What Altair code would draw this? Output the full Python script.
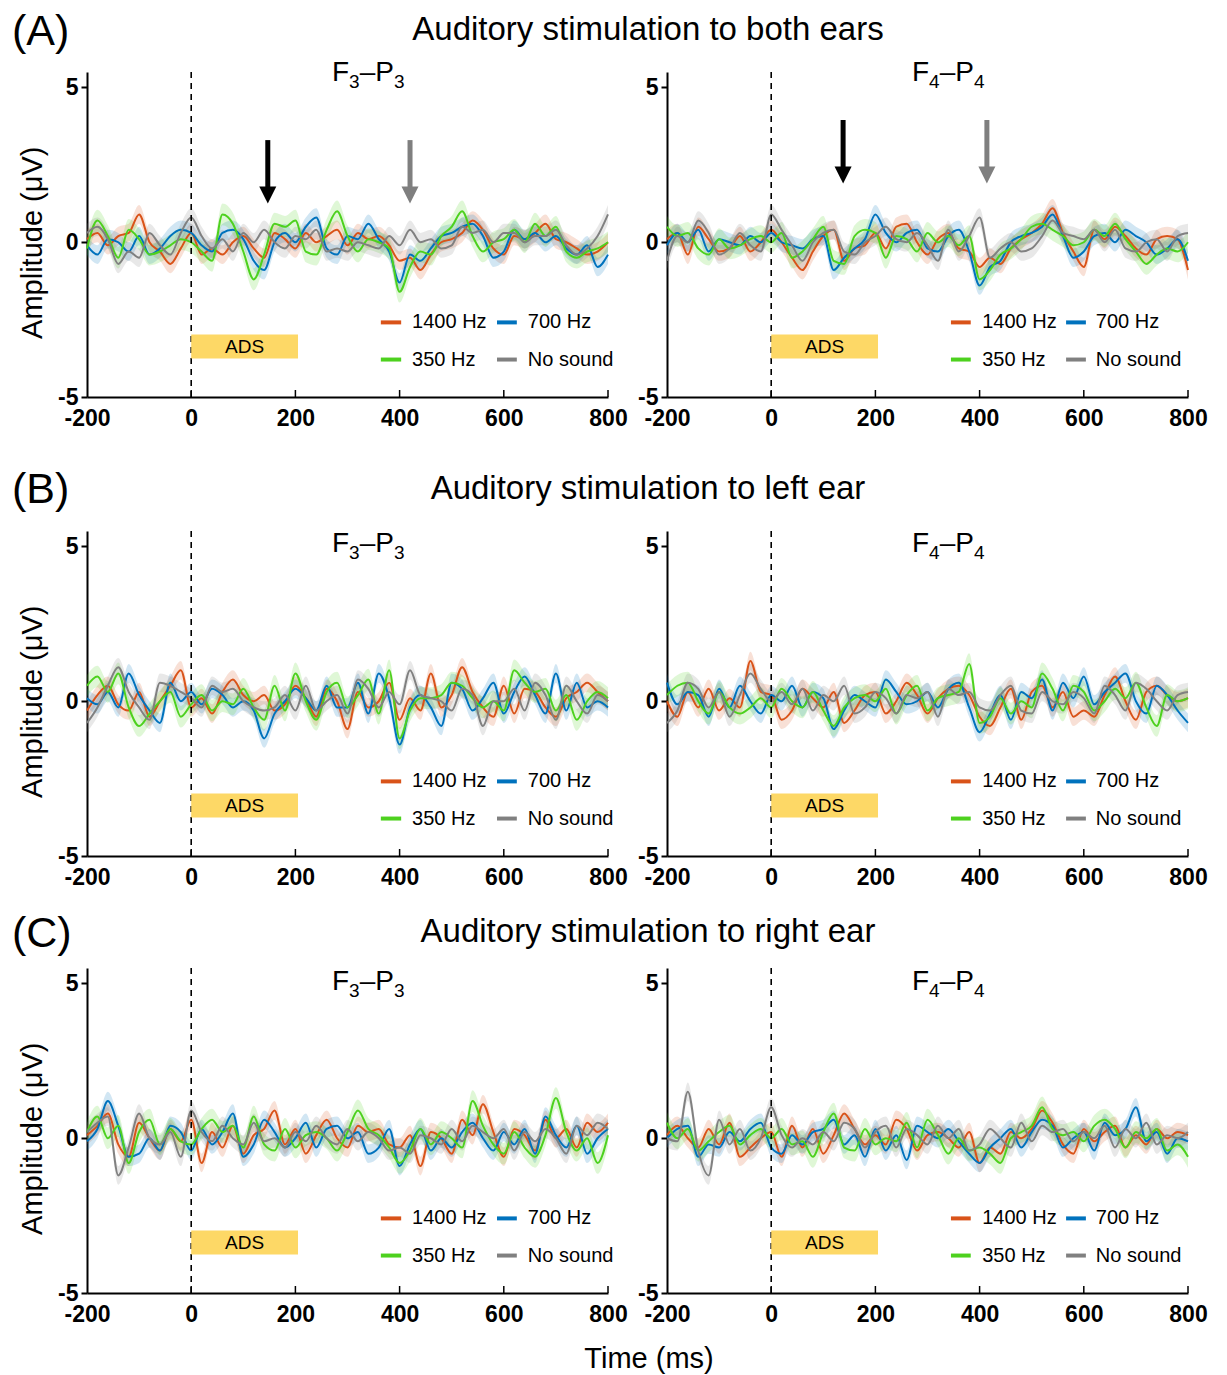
import altair as alt
import pandas as pd

# ---------------- data (20 ms steps) ----------------
TIMES = list(range(-200, 801, 20))
CONDS = ["1400 Hz", "700 Hz", "350 Hz", "No sound"]
COLORS = ["#D95319", "#0072BD", "#4DD11E", "#808080"]
SEM = [0.30, 0.30, 0.35, 0.30]

ROW_KEYS = ["A", "B", "C"]
ROW_LABELS = ["(A)", "(B)", "(C)"]
ROW_TITLES = ["Auditory stimulation to both ears",
              "Auditory stimulation to left ear",
              "Auditory stimulation to right ear"]
ELECTRODE_NUM = {"L": "3", "R": "4"}
X_TICKS = [-200, 0, 200, 400, 600, 800]
Y_TICKS = [-5, 0, 5]

# Panel A, F3-P3
A_L_1400 = [0.1, 0.3, -0.1, 0.2, 0.3, 0.9, 0.0, -0.3, -0.7, -0.2,
            0.3, -0.4, -0.2, -0.4, 0.0, 0.2, -0.2, -0.5, 0.3, 0.1,
            -0.2, 0.3, 0.0, 0.2, 0.4, -0.1, 0.3, 0.1, 0.2, -0.1,
            -0.6, -0.5, -0.9, -0.4, 0.0, 0.1, 0.3, 0.7, 0.4, -0.2,
            -0.4, 0.2, 0.1, 0.3, 0.6, 0.1, 0.0, -0.2, -0.4, -0.3, 0.0]
A_L_700 = [-0.1, -0.4, 0.1, 0.0, -0.3, 0.2, -0.4, -0.2, 0.2, 0.4,
           0.3, -0.1, -0.3, 0.3, 0.4, 0.1, -0.6, -0.9, 0.0, 0.3,
           0.0, 0.5, 0.8, -0.2, -0.4, 0.2, 0.1, 0.6, 0.1, -0.3,
           -1.3, -0.4, -0.6, -0.2, 0.2, 0.3, 0.5, 0.6, 0.2, -0.5,
           -0.3, 0.4, 0.1, 0.3, 0.0, 0.2, -0.2, -0.4, -0.1, -0.8, -0.4]
A_L_350 = [-0.2, 0.7, 0.2, -0.5, 0.4, 0.1, -0.4, -0.3, -0.1, 0.1,
           0.0, -0.3, -0.6, 0.9, 0.6, -0.3, -1.2, -0.4, 0.6, 0.5,
           0.7, -0.3, -0.4, 0.4, 1.0, 0.2, -0.3, 0.1, 0.0, -0.2,
           -1.6, -0.8, -0.3, -0.4, 0.2, 0.5, 1.0, 0.2, -0.3, 0.0,
           0.1, 0.4, 0.0, 0.6, 0.2, 0.5, -0.3, -0.5, -0.3, -0.2, 0.0]
A_L_NS = [0.3, 0.5, 0.1, -0.7, -0.3, -0.5, 0.3, -0.1, -0.4, 0.3,
          0.8, 0.2, -0.2, 0.1, -0.3, 0.3, 0.0, 0.4, 0.0, -0.2,
          0.2, 0.1, 0.4, -0.3, -0.2, -0.3, 0.0, -0.1, -0.2, 0.2,
          -0.1, 0.4, 0.0, 0.1, -0.2, -0.1, 0.5, 0.3, 0.4, 0.0,
          0.3, 0.3, 0.0, 0.2, 0.2, 0.4, -0.1, -0.4, -0.2, 0.2, 0.9]
# Panel A, F4-P4
A_R_1400 = [0.1, 0.3, -0.4, 0.5, 0.1, -0.3, -0.2, 0.2, -0.3, 0.0,
            0.4, 0.0, -0.5, -0.9, -0.3, 0.2, 0.4, -0.6, -0.2, -0.1,
            0.3, -0.2, 0.5, 0.6, 0.0, -0.4, 0.1, 0.3, -0.2, -0.3,
            -0.8, -0.5, -0.7, -0.2, 0.1, 0.3, 0.6, 1.1, 0.3, -0.3,
            -0.8, 0.4, 0.1, 0.5, 0.2, -0.2, -0.4, 0.1, 0.2, 0.1, -0.9]
A_R_700 = [-0.1, 0.3, 0.0, 0.4, -0.3, 0.1, 0.0, -0.1, 0.2, 0.0,
           0.3, 0.0, -0.1, -0.2, 0.1, 0.2, -0.9, -0.5, -0.2, 0.1,
           0.9, 0.3, 0.0, 0.3, 0.4, -0.2, -0.3, 0.2, 0.4, -0.3,
           -1.4, -0.8, -0.6, 0.0, 0.2, 0.3, 0.5, 0.9, 0.2, -0.5,
           -0.3, 0.2, 0.3, 0.0, 0.4, 0.2, 0.0, -0.4, -0.2, 0.1, -0.6]
A_R_350 = [0.5, 0.2, 0.3, -0.2, -0.4, 0.1, -0.2, -0.1, 0.1, 0.2,
           0.0, 0.3, -0.5, -0.3, 0.1, 0.5, -0.6, -0.7, 0.2, 0.4,
           0.3, -0.5, 0.2, 0.1, -0.3, 0.3, 0.0, 0.2, -0.1, 0.2,
           -1.2, -0.9, -0.4, -0.2, 0.1, 0.5, 0.6, 0.4, 0.2, -0.1,
           0.0, 0.4, 0.2, 0.6, 0.1, -0.3, -0.7, -0.4, -0.2, -0.3, 0.0]
A_R_NS = [-0.6, 0.2, 0.0, 0.7, 0.3, -0.4, -0.2, 0.3, -0.1, -0.3,
          0.9, 0.4, -0.1, -0.6, 0.0, 0.3, 0.4, -0.3, -0.4, 0.0,
          0.2, 0.5, 0.1, 0.0, 0.3, -0.1, -0.6, 0.4, -0.3, 0.2,
          0.8, -0.5, -0.2, 0.0, -0.3, -0.2, 0.2, 0.7, 0.3, 0.2,
          0.1, 0.4, 0.0, 0.4, -0.2, -0.3, 0.0, 0.1, -0.3, 0.2, 0.3]
# Panel B, F3-P3
B_L_1400 = [-0.3, 0.2, 0.5, -0.1, -0.3, 0.3, -0.5, 0.0, 0.5, 1.0,
            -0.2, 0.1, -0.4, 0.3, 0.7, 0.2, 0.0, 0.2, -0.3, -0.1,
            0.5, 0.1, -0.5, 0.4, 0.0, -0.9, 0.3, -0.2, 0.0, 0.6,
            -0.6, 0.1, -0.3, 0.9, -0.2, 0.2, 1.1, 0.3, -0.2, -0.5,
            0.5, -0.4, 0.4, 0.3, -0.2, -0.5, 0.1, 0.3, 0.6, 0.3, 0.0]
B_L_700 = [0.1, -0.1, 0.3, -0.2, 0.9, 0.2, -0.3, -0.7, 0.6, 0.0,
           0.3, -0.1, 0.4, 0.2, -0.2, 0.0, -0.3, -1.2, -0.4, 0.0,
           0.4, 0.1, -0.3, 0.5, -0.2, -0.2, 0.6, -0.4, 0.9, 0.1,
           -1.4, -0.2, 0.2, -0.2, -0.8, 0.6, 0.4, -0.3, 0.1, 0.6,
           -0.4, 0.3, 0.8, 0.2, -0.4, 0.9, -0.3, 0.6, -0.2, 0.0, -0.2]
B_L_350 = [0.5, 0.8, 0.3, 0.9, -0.2, -0.8, -0.4, 0.0, 0.3, -0.5,
           -0.1, 0.2, -0.3, 0.0, -0.1, 0.4, -0.2, -0.6, 0.5, -0.3,
           0.9, 0.0, -0.6, 0.3, 0.6, -0.2, 0.2, 0.7, -0.4, 1.0,
           -1.2, -0.3, 0.1, 0.1, 0.2, 0.6, 0.5, 0.1, -0.2, 0.0,
           -0.3, 1.0, 0.6, 0.3, 0.4, -0.3, 0.2, -0.6, 0.0, 0.3, 0.1]
B_L_NS = [-0.7, -0.2, 0.5, 1.1, 0.3, -0.2, -0.6, 0.6, 0.5, 0.3,
          0.1, -0.2, 0.5, 0.3, 0.4, 0.0, -0.2, -0.3, -0.2, 0.2,
          -0.3, 0.5, -0.3, 0.0, 0.2, -0.4, 0.7, 0.4, -0.2, 0.3,
          -0.1, 1.0, 0.2, 0.1, 0.0, -0.3, 0.4, 0.2, -0.8, 0.0,
          0.0, 0.4, -0.3, 0.6, 0.2, -0.6, 0.5, 0.0, -0.4, 0.2, 0.0]
# Panel B, F4-P4
B_R_1400 = [0.0, -0.5, 0.3, -0.2, 0.4, -0.3, 0.1, -0.2, 1.3, 0.3,
            0.2, -0.6, -0.3, 0.4, 0.1, -0.2, 0.3, -0.7, -0.3, 0.2,
            0.3, -0.4, 0.0, 0.6, 0.2, -0.4, 0.1, 0.4, 0.5, 0.2,
            -0.5, -0.8, -0.2, 0.4, -0.6, 0.3, 0.5, -0.2, 0.3, -0.5,
            -0.3, -0.5, 0.2, 0.8, 0.0, -0.6, 0.3, 0.5, 0.2, 0.0, 0.1]
B_R_700 = [0.6, -0.1, 0.3, 0.2, -0.5, 0.4, -0.2, 0.5, 0.0, -0.4,
           0.2, 0.0, 0.5, -0.2, 0.3, 0.1, -0.9, -0.3, 0.2, 0.0,
           -0.2, 0.7, 0.3, -0.1, 0.0, 0.3, -0.2, 0.4, 0.6, -0.2,
           -1.0, -0.4, 0.2, -0.6, 0.3, 0.1, 0.7, -0.3, 0.6, 0.1,
           0.8, -0.1, 0.3, 0.6, 0.9, 0.0, -0.4, 0.5, 0.2, -0.3, -0.7]
B_R_350 = [0.2, 0.5, 0.6, 0.0, -0.4, 0.3, -0.2, -0.4, -0.2, 0.1,
           -0.2, 0.4, 0.0, -0.2, 0.3, -0.3, -0.8, -0.2, 0.1, 0.2,
           0.0, 0.4, -0.4, 0.2, 0.5, -0.3, 0.1, 0.2, 0.3, 1.2,
           -0.7, -0.5, 0.1, -0.4, 0.0, -0.2, 0.9, 0.4, -0.3, 0.5,
           0.3, -0.3, 0.0, 0.4, 0.1, 0.6, -0.2, -0.8, 0.2, 0.0, 0.1]
B_R_NS = [-0.7, -0.3, 0.6, 0.4, -0.2, 0.3, -0.5, 0.2, 0.9, 0.4,
          0.0, 0.3, -0.1, 0.4, -0.3, 0.2, 0.0, 0.5, -0.4, -0.2,
          0.3, 0.1, -0.4, 0.2, 0.1, 0.3, -0.5, 0.4, 0.2, 0.3,
          -0.2, -0.3, 0.2, 0.5, -0.3, -0.4, 0.3, 0.0, -0.1, 0.3,
          0.1, -0.4, 0.5, 0.2, -0.3, 0.6, 0.4, 0.0, -0.3, 0.2, 0.3]
# Panel C, F3-P3
C_L_1400 = [0.1, 0.4, 0.8, -0.2, -0.6, 0.5, 0.0, -0.4, 0.3, -0.1,
            0.6, -0.8, 0.2, -0.3, 0.4, -0.5, 0.1, 0.3, 0.9, -0.2,
            0.3, -0.5, 0.1, 0.6, 0.0, -0.3, 0.4, 0.2, 0.3, -0.2,
            -0.3, 0.1, -0.9, 0.2, 0.0, -0.5, 0.6, 0.1, 1.1, 0.2,
            -0.6, 0.3, 0.1, -0.4, 0.6, 0.0, 0.3, -0.3, 0.5, 0.2, 0.5]
C_L_700 = [-0.1, 0.3, 1.2, 0.4, -0.6, -0.5, 0.0, -0.4, 0.4, 0.2,
           -0.4, 0.3, -0.2, 0.2, 0.8, -0.6, -0.2, 0.6, 0.2, -0.3,
           0.0, 0.5, -0.3, 0.3, 0.4, 0.0, 0.2, -0.5, -0.3, 0.3,
           -0.9, -0.2, 0.3, -0.4, 0.0, -0.3, 0.2, 0.5, 0.0, -0.4,
           0.2, -0.2, 0.3, -0.5, 0.7, 0.1, -0.3, 0.4, -0.5, 0.0, 0.3]
C_L_350 = [0.2, 0.7, 0.0, 0.4, -0.8, 0.2, 0.6, -0.2, 0.3, -0.1,
           -0.2, 0.3, 0.6, 0.2, 0.4, -0.3, 0.7, -0.2, -0.4, 0.3,
           -0.3, 0.1, 0.2, 0.0, -0.4, 0.2, 0.9, 0.3, 0.1, -0.3,
           -0.8, -0.4, 0.3, -0.2, 0.2, 0.0, -0.3, 1.2, 0.4, -0.2,
           -0.5, 0.2, -0.3, -0.6, 0.1, 1.3, 0.2, -0.4, 0.0, -0.8, 0.1]
C_L_NS = [0.2, 0.5, 0.7, -1.2, -0.3, 0.8, 0.0, -0.2, 0.2, -0.6,
          0.9, 0.2, -0.1, 0.4, 0.0, -0.2, 0.5, -0.1, 0.0, -0.3,
          0.2, -0.1, 0.4, 0.0, -0.2, 0.3, -0.1, 0.2, 0.0, -0.4,
          -0.3, -0.5, 0.1, 0.0, -0.2, 0.3, -0.1, 0.4, 0.2, 0.0,
          0.3, -0.4, 0.2, -0.1, 0.3, 0.0, -0.5, 0.4, 0.1, 0.5, 0.3]
# Panel C, F4-P4
C_R_1400 = [0.1, 0.4, 0.0, -0.3, 0.3, -0.2, 0.5, -0.6, -0.3, 0.0,
            0.2, -0.6, 0.4, -0.3, 0.3, -0.5, 0.1, 0.8, 0.3, -0.2,
            0.1, -0.2, 0.6, 0.3, -0.4, 0.1, 0.2, 0.0, -0.3, 0.2,
            -0.8, -0.3, -0.5, 0.2, 0.0, 0.3, 0.9, 0.5, -0.2, -0.5,
            0.3, -0.1, 0.2, 0.4, -0.3, 0.1, -0.2, 0.3, 0.0, 0.2, 0.1]
C_R_700 = [0.0, 0.3, 0.4, -0.6, -0.2, -0.3, 0.2, -0.1, 0.3, 0.5,
           -0.3, -0.5, 0.1, -0.2, 0.2, 0.3, 0.6, -0.2, 0.1, -0.6,
           0.3, -0.4, 0.1, -0.7, 0.4, 0.2, 0.0, 0.3, -0.1, -0.5,
           -0.8, -0.3, 0.0, 0.3, -0.3, 0.2, 0.6, 0.4, -0.3, 0.0,
           0.2, -0.4, 0.5, 0.1, 0.3, 1.0, -0.1, 0.2, -0.5, 0.0, -0.1]
C_R_350 = [0.5, 0.0, 0.3, -0.4, -0.1, 0.2, 0.4, -0.2, 0.1, 0.3,
           0.0, 0.3, -0.2, -0.1, -0.6, 0.2, 0.8, -0.3, -0.4, 0.3,
           -0.2, 0.0, -0.1, 0.5, -0.3, 0.6, 0.1, -0.5, 0.0, -0.4,
           -0.3, -0.5, -0.8, 0.0, 0.2, 0.4, 1.0, 0.3, 0.1, 0.2,
           -0.1, 0.4, 0.6, 0.3, -0.3, 0.2, 0.0, 0.3, -0.4, -0.2, -0.6]
C_R_NS = [0.0, -0.1, 1.5, -0.4, -1.2, 0.6, -0.2, 0.3, -0.4, 0.0,
          1.0, 0.1, -0.3, 0.0, -0.2, 0.2, -0.1, 0.5, 0.3, -0.3,
          0.2, 0.4, -0.3, 0.3, 0.1, -0.2, 0.4, 0.0, 0.3, -0.4,
          -0.2, 0.3, 0.0, -0.3, 0.5, -0.1, 0.4, 0.2, 0.3, -0.1,
          0.2, 0.0, 0.4, -0.3, 0.3, 0.0, 0.5, -0.2, 0.1, 0.0, 0.2]

SERIES = {
    ("A", "L"): [A_L_1400, A_L_700, A_L_350, A_L_NS],
    ("A", "R"): [A_R_1400, A_R_700, A_R_350, A_R_NS],
    ("B", "L"): [B_L_1400, B_L_700, B_L_350, B_L_NS],
    ("B", "R"): [B_R_1400, B_R_700, B_R_350, B_R_NS],
    ("C", "L"): [C_L_1400, C_L_700, C_L_350, C_L_NS],
    ("C", "R"): [C_R_1400, C_R_700, C_R_350, C_R_NS],
}

# ADS stimulus bar (ms, µV)
ADS_T = [0, 205]
ADS_V = [-3.76, -2.98]

# arrows in row A: time, top, tip (µV)
ARROWS = {
    "L": {"t": [147, 420], "top": [3.3, 3.3], "tip": [1.25, 1.25], "col": ["#000000", "#7F7F7F"]},
    "R": {"t": [138, 414], "top": [3.95, 3.95], "tip": [1.9, 1.9], "col": ["#000000", "#7F7F7F"]},
}

# ---------------- layout / style ----------------
FONT = "Liberation Sans"
W, H = 521, 325
Y_DOM = [-5, 5.5]
PX = H / (Y_DOM[1] - Y_DOM[0])
XS = alt.Scale(domain=[-200, 800], nice=False, zero=False)
YS = alt.Scale(domain=Y_DOM, nice=False, zero=False)
CS = alt.Scale(domain=CONDS, range=COLORS)

LEG = {
    "L": {"x0": [364, 587], "x1": [403, 625], "xt": [424, 646]},
    "R": {"x0": [345, 566], "x1": [383, 604], "xt": [405, 623]},
}
LEG_V = [-2.59, -3.79]
ROW_LABEL_Y = [-40, -41, -34]
ROW_TITLE_Y = [-42, -42, -36]
SUB_BASE = [9, 21, 22]


def long_df(r, s):
    rows = []
    for ci, (c, vals) in enumerate(zip(CONDS, SERIES[(r, s)])):
        assert len(vals) == len(TIMES)
        for t, v in zip(TIMES, vals):
            rows.append({"t": t, "v": v, "lo": v - SEM[ci], "hi": v + SEM[ci], "cond": c})
    return pd.DataFrame(rows)


def panel(ri, s):
    r = ROW_KEYS[ri]
    d = long_df(r, s)
    xax = alt.Axis(values=X_TICKS, labelExpr="'' + datum.value", labelFont=FONT,
                   labelFontWeight="bold", labelFontSize=23, labelColor="black",
                   ticks=False, domainColor="black", domainWidth=2, grid=False,
                   labelPadding=10, title=None, labelFlush=False, labelOverlap=False,
                   labelBound=False)
    yax = alt.Axis(values=Y_TICKS, labelExpr="'' + datum.value", labelFont=FONT,
                   labelFontWeight="bold", labelFontSize=23, labelColor="black",
                   tickSize=6, tickWidth=2, tickColor="black", domainColor="black",
                   domainWidth=2, grid=False, labelPadding=3,
                   title="Amplitude (μV)" if s == "L" else None,
                   titleFont=FONT, titleFontSize=29, titleFontWeight="normal",
                   titleColor="black", titlePadding=10, titleY=5.5 * PX)
    X = alt.X("t:Q", scale=XS, axis=xax)
    base = alt.Chart(d)
    band = base.mark_area(opacity=0.18, interpolate="monotone").encode(
        x=X, y=alt.Y("lo:Q", scale=YS, axis=yax), y2="hi:Q",
        color=alt.Color("cond:N", scale=CS, legend=None))
    line = base.mark_line(strokeWidth=2, interpolate="monotone").encode(
        x="t:Q", y="v:Q", color=alt.Color("cond:N", scale=CS, legend=None))

    zero = alt.Chart(pd.DataFrame({"t": [0]})).mark_rule(
        color="black", strokeWidth=1.6, strokeDash=[6, 5]).encode(
        x="t:Q", y=alt.value(0), y2=alt.value(H))

    # inward x ticks
    tk = pd.DataFrame({"t": X_TICKS[1:]})
    tk["v0"] = Y_DOM[0]
    tk["v1"] = Y_DOM[0] + 7 / PX
    ticks = alt.Chart(tk).mark_rule(color="black", strokeWidth=1.5).encode(
        x="t:Q", y="v0:Q", y2="v1:Q")

    ads_df = pd.DataFrame({"t0": [ADS_T[0]], "t1": [ADS_T[1]], "v0": [ADS_V[0]], "v1": [ADS_V[1]],
                           "tm": [(ADS_T[0] + ADS_T[1]) / 2], "vm": [(ADS_V[0] + ADS_V[1]) / 2],
                           "lab": ["ADS"]})
    ads = alt.Chart(ads_df).mark_rect(color="#FDD866").encode(
        x="t0:Q", x2="t1:Q", y="v0:Q", y2="v1:Q")
    ads_t = alt.Chart(ads_df).mark_text(font=FONT, fontSize=19, color="black").encode(
        x="tm:Q", y="vm:Q", text="lab:N")

    lay = LEG[s]
    leg_rows = []
    for ci, c in enumerate(CONDS):
        col, row = ci % 2, ci // 2
        leg_rows.append({"cond": c, "x0": lay["x0"][col], "x1": lay["x1"][col],
                         "xt": lay["xt"][col], "v": LEG_V[row]})
    leg_df = pd.DataFrame(leg_rows)
    leg_sw = alt.Chart(leg_df).mark_rule(strokeWidth=4).encode(
        x="x0:Q", x2="x1:Q", y="v:Q", color=alt.Color("cond:N", scale=CS, legend=None))
    leg_tx = alt.Chart(leg_df).mark_text(font=FONT, fontSize=20, align="left",
                                         baseline="middle", color="black").encode(
        x="xt:Q", y="v:Q", text="cond:N")

    # panel title F_n – P_n
    n = ELECTRODE_NUM[s]
    fs, ss = 28, 19
    x0 = 245
    yb = SUB_BASE[ri]
    parts = [("F", x0, yb, fs), (n, x0 + 0.611 * fs, yb + 7, ss),
             ("–P", x0 + 0.611 * fs + 0.556 * ss, yb, fs),
             (n, x0 + 0.611 * fs + 0.556 * ss + 1.223 * fs, yb + 7, ss)]
    title_layers = [alt.Chart(pd.DataFrame({"a": [0]})).mark_text(
        text=txt, font=FONT, fontSize=size, align="left", baseline="alphabetic",
        color="black").encode(x=alt.value(px), y=alt.value(py))
        for txt, px, py, size in parts]

    layers = [band, line, zero, ticks, ads, ads_t, leg_sw, leg_tx] + title_layers

    if r == "A":
        a = ARROWS[s]
        adf = pd.DataFrame({"t": a["t"], "top": a["top"], "tip": a["tip"], "col": a["col"]})
        adf["shaft_end"] = adf["tip"] + 12 / PX
        adf["head_c"] = adf["tip"] + 8.5 / PX
        shaft = alt.Chart(adf).mark_rule(strokeWidth=5).encode(
            x="t:Q", y="top:Q", y2="shaft_end:Q", color=alt.Color("col:N", scale=None))
        head = alt.Chart(adf).mark_point(shape="M-1,-1L1,-1L0,1Z", filled=True, size=290,
                                         opacity=1).encode(
            x="t:Q", y="head_c:Q", color=alt.Color("col:N", scale=None))
        layers += [shaft, head]

    if s == "L":
        lab = alt.Chart(pd.DataFrame({"a": [0]})).mark_text(
            text=ROW_LABELS[ri], font=FONT, fontSize=43, align="left", baseline="middle",
            color="black").encode(x=alt.value(-75), y=alt.value(ROW_LABEL_Y[ri]))
        ttl = alt.Chart(pd.DataFrame({"a": [0]})).mark_text(
            text=ROW_TITLES[ri], font=FONT, fontSize=33, align="center", baseline="middle",
            color="black").encode(x=alt.value(561), y=alt.value(ROW_TITLE_Y[ri]))
        layers += [lab, ttl]
        if r == "C":
            tm = alt.Chart(pd.DataFrame({"a": [0]})).mark_text(
                text="Time (ms)", font=FONT, fontSize=29, align="center", baseline="middle",
                color="black").encode(x=alt.value(562), y=alt.value(391))
            layers.append(tm)

    return alt.layer(*layers).properties(width=W, height=H)


rows = [alt.hconcat(panel(i, "L"), panel(i, "R"), spacing=59, bounds="flush")
        for i in range(3)]
top = alt.vconcat(rows[0], rows[1], spacing=39)
chart = alt.vconcat(top, rows[2], spacing=24).properties(
    padding={"left": 4, "top": 3, "right": 5, "bottom": 5}
).configure(background="white").configure_view(stroke=None)

chart.save("out.html", embed_options={"renderer": "svg", "actions": False})
